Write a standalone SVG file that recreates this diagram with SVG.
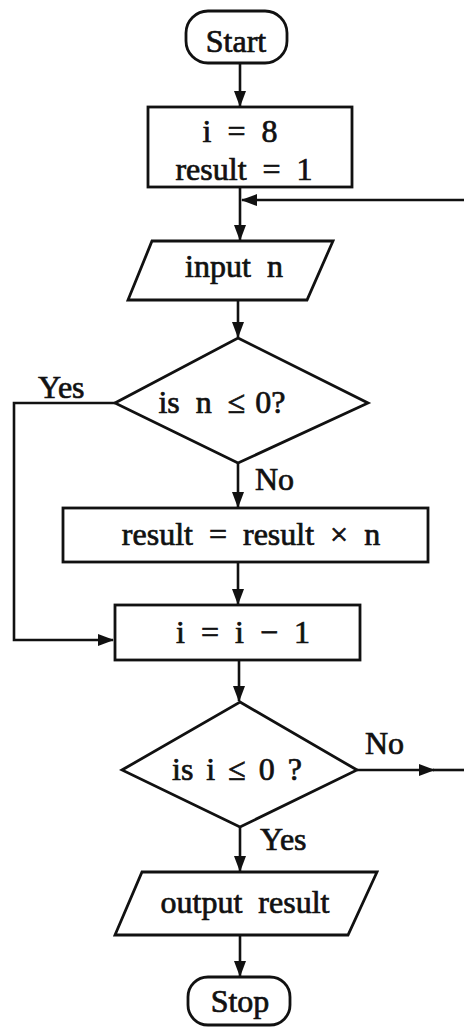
<svg xmlns="http://www.w3.org/2000/svg" width="464" height="1027" viewBox="0 0 464 1027">
<style>
.shape{fill:#fff;stroke:#111;stroke-width:2.8}
.conn{fill:none;stroke:#111;stroke-width:2.6}
text{font-family:"Liberation Serif","Times New Roman",serif;font-size:32px;fill:#111;stroke:#111;stroke-width:0.7;word-spacing:8px}
.c{text-anchor:middle}
.tight{word-spacing:2px}
.mid{word-spacing:5px}
</style>
<defs>
<marker id="ah" markerUnits="userSpaceOnUse" markerWidth="16" markerHeight="12" refX="15" refY="6" orient="auto">
<path d="M0,0 L16,6 L0,12 Z" fill="#111"/>
</marker>
</defs>
<rect width="464" height="1027" fill="#fff"/>
<g id="connectors">
<line class="conn" x1="240" y1="63" x2="240" y2="106" marker-end="url(#ah)"/>
<line class="conn" x1="240" y1="187" x2="240" y2="240" marker-end="url(#ah)"/>
<line class="conn" x1="464" y1="200" x2="242" y2="200" marker-end="url(#ah)"/>
<line class="conn" x1="238" y1="300" x2="238" y2="337" marker-end="url(#ah)"/>
<polyline class="conn" points="115,403 14,403 14,640 113,640" marker-end="url(#ah)"/>
<line class="conn" x1="238" y1="463" x2="238" y2="507" marker-end="url(#ah)"/>
<line class="conn" x1="238" y1="562" x2="238" y2="604" marker-end="url(#ah)"/>
<line class="conn" x1="239" y1="660" x2="239" y2="701" marker-end="url(#ah)"/>
<line class="conn" x1="357" y1="770" x2="434" y2="770" marker-end="url(#ah)"/>
<line class="conn" x1="433" y1="770" x2="464" y2="770"/>
<line class="conn" x1="240" y1="827" x2="240" y2="871" marker-end="url(#ah)"/>
<line class="conn" x1="240" y1="935" x2="240" y2="976" marker-end="url(#ah)"/>
<text x="38" y="398">Yes</text>
<text x="255" y="490">No</text>
<text x="365" y="754">No</text>
<text x="260" y="850">Yes</text>
</g>
<g id="start">
<rect class="shape" x="186" y="11" width="101" height="52" rx="22"/>
<text class="c" x="236" y="52">Start</text>
</g>
<g id="init">
<rect class="shape" x="148" y="107" width="204" height="80"/>
<text class="c" x="240" y="142">i = 8</text>
<text class="c" x="244" y="180">result = 1</text>
</g>
<g id="input">
<polygon class="shape" points="152,241 333,241 307,300 128,300"/>
<text class="c" x="234" y="277">input n</text>
</g>
<g id="decision1">
<polygon class="shape" points="238,338 368,403 238,463 115,403"/>
<text class="c" x="222" y="413"><tspan>is n </tspan><tspan class="tight">≤ 0?</tspan></text>
</g>
<g id="multiply">
<rect class="shape" x="63" y="508" width="365" height="54"/>
<text class="c" x="251" y="545">result = result × n</text>
</g>
<g id="decrement">
<rect class="shape" x="115" y="605" width="245" height="55"/>
<text class="c" x="243" y="643">i = i − 1</text>
</g>
<g id="decision2">
<polygon class="shape" points="240,702 357,770 240,827 122,770"/>
<text class="c mid" x="237" y="780">is i ≤ 0 ?</text>
</g>
<g id="output">
<polygon class="shape" points="142,872 377,872 348,935 115,935"/>
<text class="c" x="245" y="913">output result</text>
</g>
<g id="stop">
<rect class="shape" x="188" y="977" width="102" height="48" rx="20"/>
<text class="c" x="240" y="1012">Stop</text>
</g>
</svg>
